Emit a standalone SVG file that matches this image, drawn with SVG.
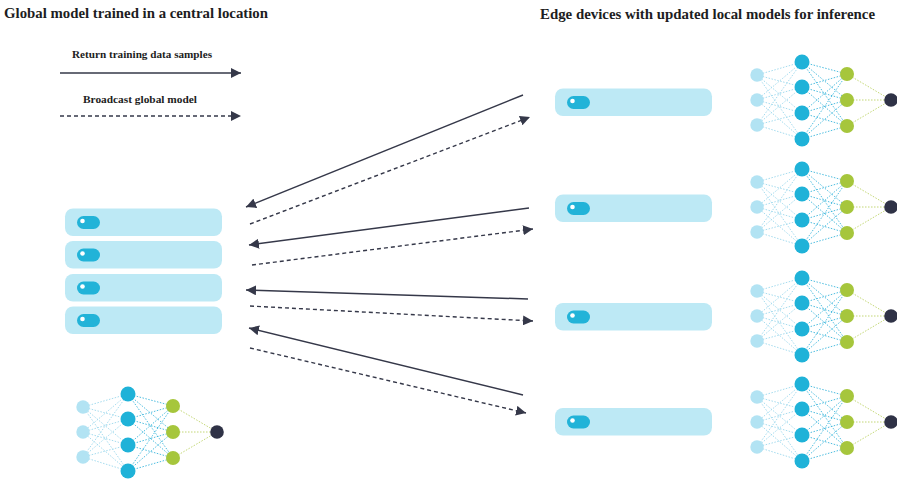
<svg xmlns="http://www.w3.org/2000/svg" xmlns:xlink="http://www.w3.org/1999/xlink" width="897" height="481" viewBox="0 0 897 481">
<style>
.title{font-family:"Liberation Serif","Times New Roman",serif;font-weight:bold;font-size:15px;fill:#1d1d22}
.legend{font-family:"Liberation Serif","Times New Roman",serif;font-weight:bold;font-size:11px;fill:#1d1d22}
.bar{fill:#bde9f5}
.pill{fill:#22b3d8}
.dot{fill:#ffffff}
.solid{stroke:#353849;stroke-width:1.5;fill:none}
.dash{stroke:#353849;stroke-width:1.4;fill:none;stroke-dasharray:4 3}
.c1{stroke:#9ad7ec;stroke-width:0.9;stroke-dasharray:1.5 1.5;fill:none}
.c2{stroke:#3ab6db;stroke-width:0.9;stroke-dasharray:1.5 1.5;fill:none}
.c3{stroke:#bcd266;stroke-width:0.9;stroke-dasharray:1.5 1.5;fill:none}
.in{fill:#b2e3f3}
.h1{fill:#1fb2d8}
.h2{fill:#a6c63c}
.out{fill:#2f3246}
</style>
<defs>
<marker id="ah" viewBox="0 0 10 10" refX="10" refY="5" markerWidth="10" markerHeight="10" markerUnits="userSpaceOnUse" orient="auto">
<path d="M0,0 L10,5 L0,10 z" fill="#353849"/>
</marker>
<g id="net">
<g class="c1">
<path d="M0,-25 L45,-38 M0,-25 L45,-13 M0,-25 L45,13 M0,-25 L45,39"/>
<path d="M0,0 L45,-38 M0,0 L45,-13 M0,0 L45,13 M0,0 L45,39"/>
<path d="M0,25 L45,-38 M0,25 L45,-13 M0,25 L45,13 M0,25 L45,39"/>
</g>
<g class="c2">
<path d="M45,-38 L90,-26 M45,-38 L90,0 M45,-38 L90,26"/>
<path d="M45,-13 L90,-26 M45,-13 L90,0 M45,-13 L90,26"/>
<path d="M45,13 L90,-26 M45,13 L90,0 M45,13 L90,26"/>
<path d="M45,39 L90,-26 M45,39 L90,0 M45,39 L90,26"/>
</g>
<g class="c3">
<path d="M90,-26 L134,0 M90,0 L134,0 M90,26 L134,0"/>
</g>
<circle class="in" cx="0" cy="-25" r="6.7"/>
<circle class="in" cx="0" cy="0" r="6.7"/>
<circle class="in" cx="0" cy="25" r="6.7"/>
<circle class="h1" cx="45" cy="-38" r="7.5"/>
<circle class="h1" cx="45" cy="-13" r="7.5"/>
<circle class="h1" cx="45" cy="13" r="7.5"/>
<circle class="h1" cx="45" cy="39" r="7.5"/>
<circle class="h2" cx="90" cy="-26" r="7"/>
<circle class="h2" cx="90" cy="0" r="7"/>
<circle class="h2" cx="90" cy="26" r="7"/>
<circle class="out" cx="134" cy="0" r="6.8"/>
</g>
<g id="bar">
<rect class="bar" x="0" y="0" width="157" height="27.5" rx="8"/>
<rect class="pill" x="12" y="7.5" width="23" height="13" rx="6.5"/>
<circle class="dot" cx="17.5" cy="12.5" r="2.3"/>
</g>
</defs>
<rect width="897" height="481" fill="#ffffff"/>

<g id="titles">
<text class="title" x="4" y="18" textLength="264" lengthAdjust="spacingAndGlyphs">Global model trained in a central location</text>
<text class="title" x="540" y="19" textLength="335" lengthAdjust="spacingAndGlyphs">Edge devices with updated local models for inference</text>
</g>

<g id="legend">
<text class="legend" x="72" y="58" textLength="140" lengthAdjust="spacingAndGlyphs">Return training data samples</text>
<line class="solid" x1="60" y1="73" x2="241" y2="73" marker-end="url(#ah)"/>
<text class="legend" x="83" y="103" textLength="114" lengthAdjust="spacingAndGlyphs">Broadcast global model</text>
<line class="dash" x1="60" y1="116" x2="241" y2="116" marker-end="url(#ah)"/>
</g>

<g id="central-server">
<use xlink:href="#bar" x="65" y="208.5"/>
<use xlink:href="#bar" x="65" y="241"/>
<use xlink:href="#bar" x="65" y="274"/>
<use xlink:href="#bar" x="65" y="306.5"/>
</g>

<g id="global-model">
<use xlink:href="#net" x="83" y="432"/>
</g>

<g id="edge-1">
<use xlink:href="#bar" x="555" y="88.5"/>
<use xlink:href="#net" x="757" y="100"/>
</g>
<g id="edge-2">
<use xlink:href="#bar" x="555" y="194.5"/>
<use xlink:href="#net" x="757" y="207"/>
</g>
<g id="edge-3">
<use xlink:href="#bar" x="555" y="303"/>
<use xlink:href="#net" x="757" y="316"/>
</g>
<g id="edge-4">
<use xlink:href="#bar" x="555" y="408"/>
<use xlink:href="#net" x="757" y="422"/>
</g>

<g id="connectors">
<line class="solid" x1="523" y1="95" x2="246" y2="207" marker-end="url(#ah)"/>
<line class="dash" x1="250" y1="224" x2="530" y2="117" marker-end="url(#ah)"/>
<path class="solid" d="M529,208 Q400,225 249,245" marker-end="url(#ah)"/>
<line class="dash" x1="252" y1="265" x2="533" y2="229" marker-end="url(#ah)"/>
<line class="solid" x1="528" y1="299" x2="246" y2="290" marker-end="url(#ah)"/>
<line class="dash" x1="250" y1="306" x2="533" y2="321" marker-end="url(#ah)"/>
<line class="solid" x1="523" y1="395" x2="249" y2="328" marker-end="url(#ah)"/>
<line class="dash" x1="250" y1="348" x2="526" y2="413" marker-end="url(#ah)"/>
</g>
</svg>
